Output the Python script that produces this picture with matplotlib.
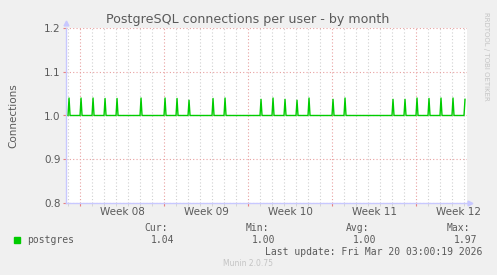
import numpy as np
import matplotlib
matplotlib.use("Agg")
import matplotlib.pyplot as plt
from matplotlib.ticker import MultipleLocator

# days counted from Mon Feb 16 2026 00:00
spike_days = [-1, 0, 1, 2, 3, 5, 7, 8, 9, 11, 12, 15, 16, 17, 18, 19, 21, 22,
              26, 27, 28, 29, 30, 31, 32]
spike_vals = [1.040, 1.040, 1.040, 1.039, 1.039, 1.040, 1.040, 1.039, 1.035,
              1.039, 1.040, 1.037, 1.040, 1.037, 1.035, 1.040, 1.037, 1.040,
              1.037, 1.037, 1.040, 1.039, 1.040, 1.040, 1.037]
base_val = 1.0
week_starts = [0, 7, 14, 21, 28]
week_labels = ["Week 08", "Week 09", "Week 10", "Week 11", "Week 12"]
stat_names = ["Cur:", "Min:", "Avg:", "Max:"]
stat_vals = ["1.04", "1.00", "1.00", "1.97"]

W, H = 497, 275
BG = "#F0F0F0"
TXT = "#5a5a5a"
AXC = "#c8c8ff"

def fx(x):
    return x / W

def fy(y):
    return 1 - y / H

# 2-hour samples, spike at 02:00 of each listed day
t = np.arange(-1.0, 32.125 + 1e-9, 1 / 12)
v = np.full(len(t), base_val)
for d, val in zip(spike_days, spike_vals):
    k = int(round((d + 1 / 12 + 1.0) * 12))
    if k < len(v):
        v[k] = val

fig = plt.figure(figsize=(W / 100, H / 100), dpi=100, facecolor=BG)
L, R, T, B = 66, 467, 28, 203
ax = fig.add_axes([fx(L), fy(B), (R - L) / W, (B - T) / H])
ax.set_facecolor("white")

ax.set_xlim(-1.17, 32.25)
ax.set_ylim(0.8, 1.2)

ax.xaxis.set_major_locator(plt.FixedLocator(week_starts))
ax.xaxis.set_minor_locator(MultipleLocator(1))
ax.set_xticklabels([])
ax.grid(which="minor", axis="x", color="#d0d0d0", linestyle=(0, (1, 2)), linewidth=0.8)
ax.grid(which="major", axis="x", color="#e8a0a0", linestyle=(0, (1, 2)), linewidth=0.8)
ax.grid(which="major", axis="y", color="#e8a0a0", linestyle=(0, (1, 2)), linewidth=0.8)
ax.set_axisbelow(True)

ax.tick_params(axis="x", which="major", length=2, color="#e88080", labelbottom=False)
ax.tick_params(axis="x", which="minor", length=2, color="#d0d0d0")
ax.tick_params(axis="y", length=2, color="#e88080", labelsize=7.5, labelcolor=TXT, pad=2)
ax.set_yticks([0.8, 0.9, 1.0, 1.1, 1.2])
ax.set_yticklabels(["0.8", "0.9", "1.0", "1.1", "1.2"])

for s in ["top", "right"]:
    ax.spines[s].set_visible(False)
for s in ["left", "bottom"]:
    ax.spines[s].set_color(AXC)
    ax.spines[s].set_linewidth(1)

ax.plot(t, v, color="#00CC00", linewidth=1.0, zorder=3)

# axis arrows
ax.plot([0], [1.03], marker="^", ms=3.5, color=AXC, transform=ax.transAxes, clip_on=False)
ax.plot([1.008], [0], marker=">", ms=3.5, color=AXC, transform=ax.transAxes, clip_on=False)

for ws, lab in zip(week_starts, week_labels):
    ax.text(ws + 3.5, -0.05, lab, transform=ax.get_xaxis_transform(),
            ha="center", va="center", fontsize=7.5, color=TXT)

fig.text(fx(248), fy(19), "PostgreSQL connections per user - by month",
         ha="center", va="center", fontsize=9.1, color=TXT)
fig.text(fx(13), fy(116), "Connections", rotation=90, ha="center", va="center",
         fontsize=7.5, color=TXT)
fig.text(fx(486), fy(56), "RRDTOOL / TOBI OETIKER", rotation=270, ha="center",
         va="center", fontsize=5.0, color="#c4c4c4")

mono = "DejaVu Sans Mono"
fig.patches.append(plt.Rectangle((fx(14), fy(243)), 6 / W, 6 / H, color="#00CC00",
                                 transform=fig.transFigure, figure=fig))
fig.text(fx(27), fy(240), "postgres", ha="left", va="center", fontsize=7,
         family=mono, color=TXT)
head_x = [168, 269, 369, 470]
val_x = [174, 275, 376, 477]
for hx, vx, n, sv in zip(head_x, val_x, stat_names, stat_vals):
    fig.text(fx(hx), fy(228), n, ha="right", va="center", fontsize=7, family=mono, color=TXT)
    fig.text(fx(vx), fy(240), sv, ha="right", va="center", fontsize=7, family=mono, color=TXT)
fig.text(fx(482), fy(252), "Last update: Fri Mar 20 03:00:19 2026", ha="right",
         va="center", fontsize=7, family=mono, color=TXT)
fig.text(fx(248), fy(264), "Munin 2.0.75", ha="center", va="center", fontsize=5.5,
         color="#c4c4c4")

fig.savefig("out.png", dpi=100, facecolor=BG)
